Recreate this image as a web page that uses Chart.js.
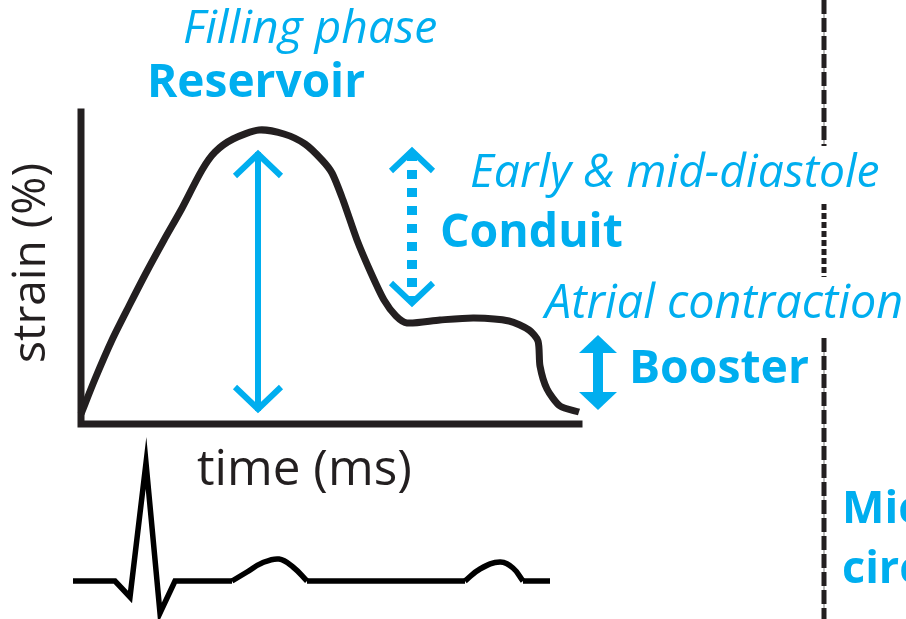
<!DOCTYPE html>
<html>
<head>
<meta charset="utf-8">
<script src="https://cdn.jsdelivr.net/npm/chart.js@4"></script>
<style>
  html, body { margin: 0; padding: 0; background: #fff; }
  #wrap { width: 906px; height: 619px; }
</style>
</head>
<body>
<div id="wrap"><canvas id="strainChart" width="906" height="619"></canvas></div>
<script>
// Strain curve (time from axis origin, strain above the time axis)
const curveTime = [0, 14, 31, 48, 65, 83, 100, 121, 134, 152, 178, 203, 224, 241, 251, 262, 276, 290, 303, 315, 326, 359, 393, 428, 448, 457, 459, 466, 479, 498];
const curveStrain = [10, 45, 84, 118, 151, 184, 214, 254, 272, 285, 294, 290, 280, 264, 251, 224, 184, 151, 124, 108, 101, 104, 106, 103, 94, 83, 58, 35, 18, 12];

// Plot axes (L shape)
const axisTime = [0, 0, 498];
const axisStrain = [312, 0, 0];

// ECG trace under the plot (null = T / P wave drawn separately)
const ecgTime = [-8, 34, 49, 65, 79, 94, 151, 151, 226, 384, 384, 442, 469];
const ecgLevel = [-157, -157, -173, -39, -189, -157, -157, null, -157, -157, null, -157, -157];
const tWaveTime = [151, 166, 181, 198, 212, 226];
const tWaveLevel = [-157, -148, -139, -135, -143, -157];
const pWaveTime = [384, 399, 419, 432, 442];
const pWaveLevel = [-157, -145, -138, -144, -157];

// Phase arrows: reservoir, conduit, booster
const arrowNames = ['reservoir', 'conduit', 'booster'];
const arrowTime = [177, 331, 517];
const arrowFrom = [11, 117, 14];
const arrowTo = [274, 277, 89];

// Vertical divider segments
const dividerTime = 743;
const dividerFrom = [424, 220, 86];
const dividerTo = [278, 147, -195];

const BLUE = '#00AEEF';
const INK = '#231F20';
const FONT = '"Open Sans", "Noto Sans", sans-serif';

function pts(xs, ys) {
  return xs.map((x, i) => ({ x: x, y: ys[i] }));
}

// text labels: [text, style, weight, left, baseline, width, colour]
const labels = [
  ['Filling phase', 'italic', 400, 102, 381, 254, BLUE],
  ['Reservoir', 'normal', 700, 66, 327, 218, BLUE],
  ['Early & mid-diastole', 'italic', 400, 389, 237, 410, BLUE],
  ['Conduit', 'normal', 700, 359, 177, 183, BLUE],
  ['Atrial contraction', 'italic', 400, 464, 106, 358, BLUE],
  ['Booster', 'normal', 700, 548, 41, 180, BLUE],
  ['time (ms)', 'normal', 400, 116, -61, 215, INK]
];

function fitSize(ctx, text, style, weight, width) {
  ctx.font = style + ' ' + weight + ' 100px ' + FONT;
  return 100 * width / ctx.measureText(text).width;
}

const annotations = {
  id: 'annotations',
  afterDatasetsDraw(chart) {
    const ctx = chart.ctx;
    const xs = chart.scales.x;
    const ys = chart.scales.y;
    ctx.save();

    // divider
    const dx = xs.getPixelForValue(dividerTime);
    for (let i = 0; i < dividerFrom.length; i++) {
      const y1 = ys.getPixelForValue(dividerFrom[i]);
      const y2 = ys.getPixelForValue(dividerTo[i]);
      if (i !== 1) {
        ctx.strokeStyle = '#8a8a8a';
        ctx.lineWidth = 1.2;
        ctx.setLineDash([]);
        ctx.beginPath(); ctx.moveTo(dx, y1); ctx.lineTo(dx, y2); ctx.stroke();
      }
      ctx.strokeStyle = INK;
      ctx.lineWidth = 5;
      ctx.setLineDash(i === 1 ? [6, 3] : [14, 4]);
      ctx.beginPath(); ctx.moveTo(dx, y1); ctx.lineTo(dx, y2); ctx.stroke();
    }
    ctx.setLineDash([]);

    // arrows
    arrowNames.forEach((name, i) => {
      const x = xs.getPixelForValue(arrowTime[i]);
      const yb = ys.getPixelForValue(arrowFrom[i]);
      const yt = ys.getPixelForValue(arrowTo[i]);
      ctx.strokeStyle = BLUE;
      ctx.fillStyle = BLUE;
      if (name === 'booster') {
        const hh = 18, hw = 19;
        ctx.fillRect(x - 5, yt + hh - 1, 10, (yb - yt) - 2 * hh + 2);
        ctx.beginPath();
        ctx.moveTo(x, yt); ctx.lineTo(x + hw, yt + hh); ctx.lineTo(x - hw, yt + hh); ctx.closePath();
        ctx.fill();
        ctx.beginPath();
        ctx.moveTo(x, yb); ctx.lineTo(x + hw, yb - hh); ctx.lineTo(x - hw, yb - hh); ctx.closePath();
        ctx.fill();
        return;
      }
      const hw = name === 'reservoir' ? 23 : 21;
      const hh = name === 'reservoir' ? 26 : 24;
      if (name === 'conduit') {
        ctx.lineWidth = 10;
        ctx.setLineDash([9, 9]);
        ctx.beginPath(); ctx.moveTo(x, yt + 5); ctx.lineTo(x, yb - 5); ctx.stroke();
        ctx.setLineDash([]);
      } else {
        ctx.lineWidth = 6;
        ctx.beginPath(); ctx.moveTo(x, yt + 2); ctx.lineTo(x, yb - 2); ctx.stroke();
      }
      ctx.lineWidth = 6;
      ctx.lineJoin = 'miter';
      ctx.beginPath();
      ctx.moveTo(x - hw, yt + hh); ctx.lineTo(x, yt + 4); ctx.lineTo(x + hw, yt + hh);
      ctx.stroke();
      ctx.beginPath();
      ctx.moveTo(x - hw, yb - hh); ctx.lineTo(x, yb - 4); ctx.lineTo(x + hw, yb - hh);
      ctx.stroke();
    });

    // labels
    ctx.textAlign = 'left';
    ctx.textBaseline = 'alphabetic';
    labels.forEach(l => {
      const size = fitSize(ctx, l[0], l[1], l[2], l[5]);
      ctx.font = l[1] + ' ' + l[2] + ' ' + size.toFixed(1) + 'px ' + FONT;
      ctx.fillStyle = l[6];
      ctx.fillText(l[0], xs.getPixelForValue(l[3]), ys.getPixelForValue(l[4]));
    });

    // cut-off label on the right
    ctx.font = '700 45px ' + FONT;
    ctx.fillStyle = BLUE;
    ctx.fillText('Micro', xs.getPixelForValue(761), ys.getPixelForValue(-99));
    ctx.fillText('circulation', xs.getPixelForValue(761), ys.getPixelForValue(-159));

    // rotated y label
    const ySize = fitSize(ctx, 'strain (%)', 'normal', 400, 200);
    ctx.font = '400 ' + ySize.toFixed(1) + 'px ' + FONT;
    ctx.fillStyle = INK;
    ctx.translate(xs.getPixelForValue(-36), ys.getPixelForValue(161));
    ctx.rotate(-Math.PI / 2);
    ctx.textAlign = 'center';
    ctx.fillText('strain (%)', 0, 0);
    ctx.restore();
  }
};

const ecgStyle = {
  borderColor: '#000',
  borderWidth: 5.5,
  borderJoinStyle: 'miter',
  borderCapStyle: 'butt',
  pointRadius: 0
};

const ctx = document.getElementById('strainChart').getContext('2d');
new Chart(ctx, {
  type: 'line',
  data: {
    datasets: [
      {
        label: 'Axes',
        data: pts(axisTime, axisStrain),
        borderColor: INK,
        borderWidth: 7,
        borderJoinStyle: 'miter',
        borderCapStyle: 'square',
        pointRadius: 0,
        tension: 0
      },
      {
        label: 'Strain',
        data: pts(curveTime, curveStrain),
        borderColor: INK,
        borderWidth: 7,
        pointRadius: 0,
        tension: 0.25
      },
      Object.assign({ label: 'ECG', data: pts(ecgTime, ecgLevel), tension: 0, spanGaps: false }, ecgStyle),
      Object.assign({ label: 'T wave', data: pts(tWaveTime, tWaveLevel), tension: 0.4 }, ecgStyle),
      Object.assign({ label: 'P wave', data: pts(pWaveTime, pWaveLevel), tension: 0.4 }, ecgStyle)
    ]
  },
  options: {
    responsive: false,
    animation: false,
    devicePixelRatio: 1,
    layout: { padding: 0 },
    scales: {
      x: { type: 'linear', min: -81, max: 825, display: false },
      y: { type: 'linear', min: -195, max: 424, display: false }
    },
    plugins: {
      legend: { display: false },
      tooltip: { enabled: false }
    }
  },
  plugins: [annotations]
});
</script>
</body>
</html>
